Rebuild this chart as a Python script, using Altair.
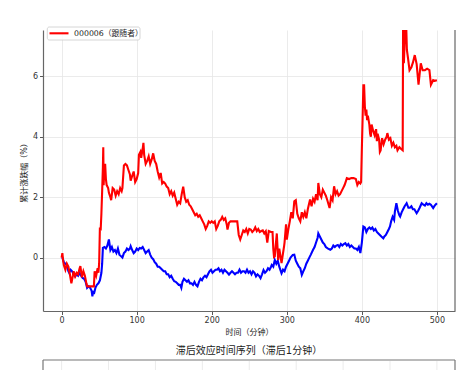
import altair as alt
import pandas as pd

# ---- data ----
red_t = [0, 1, 2, 3, 5, 7, 9, 11, 13, 15, 16, 18, 20, 22, 24, 25, 27, 29, 31, 33, 34, 38, 43, 44, 46, 48, 49, 50,
         51, 52, 53, 54, 55, 55.5, 56, 57, 58, 59, 60, 62, 63, 65, 66, 68, 70, 72, 74, 76, 78, 80, 81, 83, 85, 87,
         89, 91, 92, 94, 96, 98, 100, 102, 103, 105, 106, 108, 109, 110, 112, 114, 116, 118, 120, 122, 124, 126,
         128, 130, 132, 134, 136, 138, 140, 142, 144, 146, 148, 150, 152, 154, 156, 158, 160, 162, 164, 166, 168,
         170, 172, 174, 176, 178, 180, 182, 184, 186, 188, 190, 192, 194, 196, 198, 200, 202, 204, 206, 208, 210,
         212, 214, 216, 218, 220, 221, 223, 225, 228, 231, 234, 236, 238, 240, 242, 244, 246, 248, 250, 252, 254,
         256, 258, 260, 262, 264, 266, 268, 270, 272, 274, 276, 279, 281, 282, 283, 284, 286.7, 288.5, 290, 293,
         296.5, 297, 299, 300, 302, 304, 306, 308, 310, 312, 314, 316, 318, 320, 322, 324, 326, 328, 331, 333, 335,
         337, 339, 341, 342, 344, 346, 348, 350, 352, 354, 357, 359, 361, 363, 365, 367, 369, 371, 373, 375, 377,
         379, 380, 383, 386, 389, 392, 394, 396, 398, 399, 400, 401, 402, 403, 404, 405, 406, 407, 408, 410, 411,
         412, 413, 415, 417, 419, 420, 421, 423, 424, 425, 427, 429, 431, 433, 434, 436, 438, 440, 442, 444, 446,
         447.5, 450, 452, 454.4, 455, 456, 458.5, 460, 461.5, 463.5, 466, 468, 470.5, 473, 475.5, 478.5, 481, 484,
         487, 490, 492, 495, 497, 500]
red_v = [0.0, 0.15, -0.1, -0.25, -0.4, -0.2, -0.3, -0.55, -0.85, -0.6, -0.45, -0.62, -0.5, -0.55, -0.35, -0.28,
         -0.65, -0.45, -0.6, -0.85, -0.95, -0.95, -0.95, -0.45, -0.6, -0.35, -0.5, -0.2,
         1.0, 0.9, 1.45, 2.2, 3.0, 3.65, 2.4, 3.0, 3.1, 2.6, 2.4, 2.3, 2.15, 2.0, 1.9, 2.3, 2.25, 2.05, 2.2, 2.1,
         2.3, 2.2, 2.3, 3.05, 3.1, 3.05, 2.9, 2.75, 2.55, 2.7, 2.85, 2.5, 2.6, 2.8, 3.4, 3.5, 3.3, 3.6, 3.8, 3.4,
         3.1, 3.2, 3.35, 3.1, 3.25, 3.45, 3.2, 3.1, 2.85, 2.65, 2.8, 2.45, 2.5, 2.45, 2.35, 2.3, 2.1, 2.2, 2.05,
         2.15, 1.95, 1.75, 1.85, 1.8, 2.1, 2.35, 2.0, 1.85, 1.9, 1.75, 1.7, 1.6, 1.5, 1.4, 1.45, 1.35, 1.4, 1.3,
         1.2, 1.1, 0.95, 1.05, 1.2, 1.15, 1.2, 1.15, 1.2, 0.95, 1.05, 1.2, 1.25, 1.35, 1.25, 1.3, 1.1, 0.93, 1.15,
         1.2, 1.2, 1.2, 1.2, 0.75, 0.6, 0.75, 0.9, 0.85, 0.95, 0.8, 0.95, 0.93, 0.85, 0.9, 1.0, 0.88, 0.95, 0.85,
         0.88, 0.9, 0.8, 0.87, 0.5, 0.88, 0.85, 0.85, 0.3, 0.02, 0.04, 0.8, -0.08, 0.3, -0.18, 0.4, 0.5, 1.1, 0.6,
         0.93, 1.2, 1.5, 1.3, 1.86, 1.9, 1.45, 1.3, 1.2, 1.5, 1.35, 1.5, 1.3, 1.6, 1.92, 1.7, 1.95, 1.85, 2.1, 1.9,
         2.47, 2.1, 2.0, 2.25, 2.15, 2.05, 1.9, 1.64, 2.0, 1.9, 2.36, 2.1, 2.2, 2.05, 2.1, 2.2, 2.3, 2.4, 2.55,
         2.63, 2.6, 2.63, 2.63, 2.6, 2.4, 2.5, 2.45, 2.5, 3.6, 4.6, 5.7, 5.7, 5.0, 4.7, 4.9, 4.55, 4.7, 4.4, 4.1,
         4.0, 4.4, 4.2, 4.05, 4.25, 3.85, 4.1, 3.9, 3.5, 3.55, 3.95, 3.75, 3.9, 4.0, 4.12, 3.9, 3.95, 3.7, 3.8,
         3.65, 3.7, 3.55, 3.65, 3.6, 3.55, 8.2, 6.43, 8.2, 6.87, 6.6, 6.2, 6.3, 6.45, 6.7, 6.4, 5.72, 6.43, 6.2,
         6.2, 6.25, 6.2, 5.72, 5.87, 5.85, 5.87]

blue_t = [0, 1, 3, 5, 7, 9, 10, 12, 14, 16, 18, 20, 22, 24, 26, 28, 30, 32, 34, 36, 38, 40, 41, 42, 43, 45, 47, 49,
          51, 53, 54, 55, 57, 59, 61, 63, 65, 67, 69, 71, 73, 75, 77, 79, 81, 83, 85, 87, 89, 91, 92, 94, 96, 98,
          100, 102, 104, 106, 108, 110, 112, 114, 116, 118, 120, 122, 124, 126, 128, 130, 132, 134, 136, 138, 140,
          142, 144, 146, 148, 150, 152, 154, 156, 158, 159.5, 161, 163, 165, 167, 169, 171, 173, 175, 177, 179, 181,
          183, 185, 187, 189, 191, 193, 195, 197, 199, 201, 203, 205, 207, 209, 211, 213, 215, 217, 219, 221, 223,
          225, 227, 229, 231, 233, 235, 237, 239, 241, 243, 245, 247, 249, 251, 253, 255, 257, 259, 261, 263, 265,
          267, 269, 271, 273, 275, 277, 279, 280, 282, 284, 286, 288, 290, 293, 295, 297, 299, 301, 303, 305, 308,
          310, 312, 314, 316, 318, 320, 322, 324, 326, 328, 330, 332, 335, 337, 339, 341, 342, 344, 346, 348, 350,
          352, 355, 358, 360, 362, 364, 366, 368, 370, 372, 374, 376, 378, 380, 382, 384, 386, 388, 390, 392, 394,
          396, 398, 400, 402, 404, 406, 408, 410, 412, 414, 416, 418, 420, 422, 424, 426, 428.6, 430, 432, 434, 436,
          437.5, 439, 441, 443, 444, 446, 448, 450, 451, 453, 455, 457, 459.7, 462, 464, 466, 468, 470, 473, 475,
          477, 479.7, 482, 484, 486, 488, 490, 492, 495, 497, 500]
blue_v = [0.0, 0.0, -0.15, -0.2, -0.25, -0.45, -0.5, -0.4, -0.45, -0.55, -0.62, -0.55, -0.6, -0.5, -0.6, -0.67,
          -0.7, -0.8, -1.0, -0.95, -1.0, -1.1, -1.28, -1.1, -1.2, -1.0, -0.9, -0.85, -0.75, -0.5, -0.2, 0.32, 0.35,
          0.3, 0.4, 0.6, 0.25, 0.35, 0.2, 0.25, 0.15, 0.3, 0.1, 0.05, 0.0, 0.15, 0.2, 0.3, 0.25, 0.3, 0.38, 0.25,
          0.15, 0.2, 0.3, 0.25, 0.32, 0.3, 0.35, 0.25, 0.15, 0.2, 0.25, 0.1, 0.0, -0.05, -0.15, -0.2, -0.3, -0.3,
          -0.35, -0.4, -0.45, -0.45, -0.55, -0.55, -0.65, -0.6, -0.7, -0.78, -0.8, -0.85, -0.9, -0.9, -1.0, -0.8,
          -0.7, -0.75, -0.8, -0.75, -0.85, -0.85, -0.9, -0.8, -0.9, -0.95, -0.8, -0.7, -0.75, -0.65, -0.6, -0.65,
          -0.55, -0.45, -0.4, -0.5, -0.45, -0.4, -0.4, -0.35, -0.45, -0.4, -0.5, -0.4, -0.45, -0.5, -0.56, -0.5,
          -0.45, -0.5, -0.55, -0.5, -0.5, -0.4, -0.5, -0.45, -0.45, -0.5, -0.4, -0.5, -0.45, -0.55, -0.45, -0.5,
          -0.62, -0.55, -0.6, -0.68, -0.55, -0.41, -0.5, -0.45, -0.35, -0.4, -0.3, -0.24, -0.3, -0.08, -0.2, -0.1,
          -0.3, -0.52, -0.4, -0.45, -0.3, -0.2, -0.1, 0.0, 0.09, 0.1, -0.1, -0.2, -0.3, -0.35, -0.57, -0.45, -0.35,
          -0.2, -0.1, 0.0, 0.1, 0.26, 0.35, 0.5, 0.65, 0.8, 0.7, 0.6, 0.5, 0.45, 0.35, 0.3, 0.26, 0.3, 0.4, 0.35,
          0.4, 0.42, 0.35, 0.45, 0.4, 0.45, 0.48, 0.4, 0.45, 0.35, 0.4, 0.35, 0.3, 0.3, 0.25, 0.35, 0.15, 0.5,
          1.03, 1.0, 0.85, 0.95, 1.0, 0.95, 1.0, 0.9, 0.95, 0.85, 0.8, 0.75, 0.7, 0.64, 0.7, 0.75, 0.85, 0.95, 1.03,
          1.2, 1.35, 1.25, 1.52, 1.8, 1.55, 1.4, 1.36, 1.5, 1.6, 1.7, 1.8, 1.65, 1.65, 1.7, 1.6, 1.6, 1.47, 1.55,
          1.65, 1.8, 1.75, 1.72, 1.8, 1.75, 1.78, 1.75, 1.64, 1.72, 1.8]

x_ticks = [0, 100, 200, 300, 400, 500]
y_ticks = [0, 2, 4, 6]
next_panel_grid = [0, 62.5, 125, 187.5, 250, 312.5, 375, 437.5, 500]

legend_label = "000006（跟随者）"
x_title = "时间（分钟）"
y_title = "累计涨跌幅（%）"
next_title = "滞后效应时间序列（滞后1分钟）"

FONT = "DejaVu Sans, Noto Sans CJK SC"
W, H = 412, 281

red_df = pd.DataFrame({"t": red_t, "v": red_v, "i": range(len(red_t))})
blue_df = pd.DataFrame({"t": blue_t, "v": blue_v, "i": range(len(blue_t))})

xscale = alt.Scale(domain=[-24.8, 524.1], nice=False, zero=False)
yscale = alt.Scale(domain=[-1.765, 7.53], nice=False, zero=False)

x_axis = alt.Axis(values=x_ticks, title=x_title, format="d", grid=True)
y_axis = alt.Axis(values=y_ticks, title=y_title, format="d", grid=True)

X = alt.X("t:Q", scale=xscale, axis=x_axis)
Y = alt.Y("v:Q", scale=yscale, axis=y_axis)

blue_line = alt.Chart(blue_df).mark_line(color="#0000ff", strokeWidth=2.1, clip=True).encode(
    x=X, y=Y, order="i:Q")
red_line = alt.Chart(red_df).mark_line(color="#ff0000", strokeWidth=2.1, clip=True).encode(
    x=X, y=Y, order="i:Q")

one = pd.DataFrame({"a": [0]})

right_spine = alt.Chart(one).mark_rule(color="#666", strokeWidth=1.2).encode(
    x=alt.value(W), y=alt.value(0), y2=alt.value(H))

legend_box = alt.Chart(one).mark_rect(fill="white", fillOpacity=0.85, stroke="#cccccc",
                                      strokeWidth=0.8, cornerRadius=2).encode(
    x=alt.value(4.3), x2=alt.value(97), y=alt.value(-3), y2=alt.value(10))
legend_line = alt.Chart(one).mark_rule(color="#ff0000", strokeWidth=2.1).encode(
    x=alt.value(6.5), x2=alt.value(25.5), y=alt.value(3.3))
legend_text = alt.Chart(pd.DataFrame({"s": [legend_label]})).mark_text(
    align="left", baseline="middle", font=FONT, fontSize=7.8, color="#222").encode(
    text="s:N", x=alt.value(31), y=alt.value(3.5))

next_title_t = alt.Chart(pd.DataFrame({"s": [next_title]})).mark_text(
    align="center", baseline="middle", font=FONT, fontSize=10, color="#222").encode(
    text="s:N", x=alt.value(W / 2), y=alt.value(321))
next_top = alt.Chart(one).mark_rule(color="#777", strokeWidth=1.2).encode(
    x=alt.value(0), x2=alt.value(W), y=alt.value(330))
next_left = alt.Chart(one).mark_rule(color="#777", strokeWidth=1.2).encode(
    x=alt.value(0), y=alt.value(330), y2=alt.value(345))
next_right = alt.Chart(one).mark_rule(color="#777", strokeWidth=1.2).encode(
    x=alt.value(W), y=alt.value(330), y2=alt.value(345))
next_grid = alt.Chart(pd.DataFrame({"t": next_panel_grid})).mark_rule(color="#e6e6e6", strokeWidth=0.8).encode(
    x=X, y=alt.value(331), y2=alt.value(345))

chart = alt.layer(
    blue_line, red_line, right_spine, legend_box, legend_line, legend_text,
    next_title_t, next_grid, next_top, next_left, next_right,
).properties(
    width=W, height=H,
    autosize=alt.AutoSizeParams(type="none"),
    padding={"left": 35, "top": 22, "right": 13, "bottom": 59},
).configure_view(stroke=None).configure_axis(
    labelFont=FONT, titleFont=FONT, labelFontSize=8, titleFontSize=8,
    titleFontWeight="normal", labelColor="#333", titleColor="#222",
    domainColor="#666", domainWidth=1.2, tickColor="#444", tickSize=3.5, tickWidth=0.9,
    gridColor="#e6e6e6", gridWidth=0.8, labelPadding=2,
).configure_axisX(titlePadding=4).configure_axisY(titlePadding=4)

chart.save("out.html", embed_options={"renderer": "svg", "actions": False})
